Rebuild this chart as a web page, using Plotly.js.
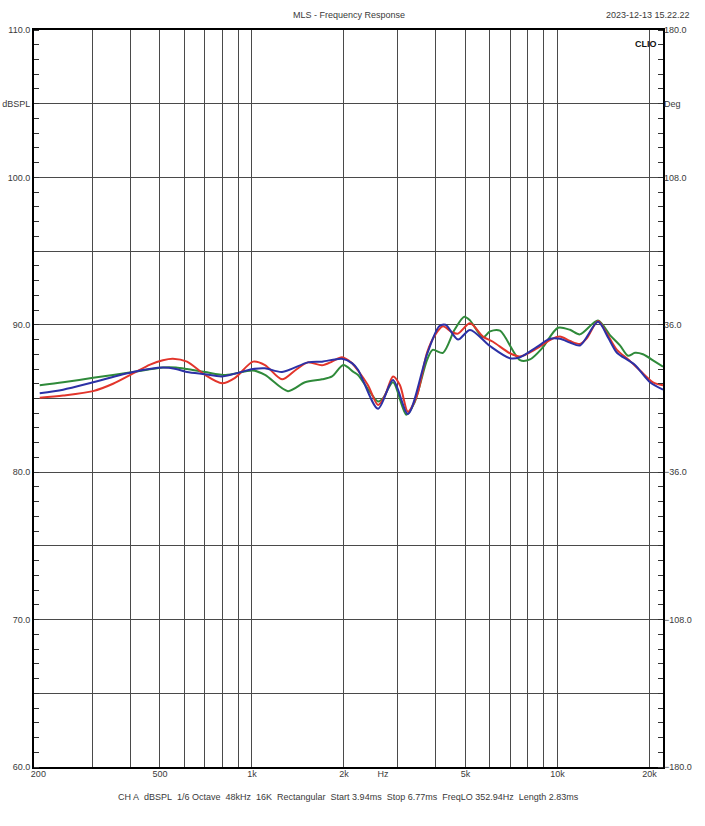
<!DOCTYPE html>
<html>
<head>
<meta charset="utf-8">
<script src="https://cdn.plot.ly/plotly-3.0.1.min.js"></script>
<style>
  html, body { margin: 0; padding: 0; background: #ffffff; }
  #chart { width: 705px; height: 826px; }
</style>
</head>
<body>
<div id="chart"></div>
<script>
// ---- data (Hz, dBSPL) ----
const FREQ_RED = [202, 241, 302, 351, 408, 464, 511, 551, 613, 702, 798, 880, 1008, 1103, 1254, 1383, 1525, 1695, 1828, 1970, 2124, 2223, 2397, 2585, 2724, 2894, 3050, 3239, 3467, 3738, 3970, 4217, 4512, 4722, 5170, 5700, 6146, 6986, 7534, 8562, 9443, 10180, 10980, 11840, 12480, 13560, 14510, 15640, 17000, 18610, 20520, 22130];
const SPL_RED  = [85.05, 85.2, 85.5, 86.0, 86.7, 87.3, 87.6, 87.7, 87.5, 86.6, 86.03, 86.4, 87.5, 87.27, 86.3, 86.9, 87.45, 87.25, 87.5, 87.8, 87.4, 86.9, 85.9, 84.56, 85.2, 86.5, 85.9, 84.1, 85.2, 88.1, 89.3, 89.9, 89.5, 89.4, 90.1, 89.2, 88.85, 88.07, 87.85, 88.4, 88.97, 89.2, 88.9, 88.7, 89.1, 90.26, 89.4, 88.3, 87.66, 86.9, 86.1, 85.9];

const FREQ_GREEN = [202, 241, 302, 408, 511, 564, 613, 702, 820, 1008, 1103, 1311, 1491, 1695, 1828, 1990, 2150, 2223, 2585, 2680, 2894, 3200, 3400, 3738, 3900, 4217, 4600, 4950, 5170, 5700, 6009, 6478, 7534, 8123, 8892, 10030, 10980, 11840, 13560, 14840, 16000, 17000, 17920, 19030, 20830, 22130];
const SPL_GREEN  = [85.9, 86.1, 86.4, 86.8, 87.1, 87.1, 87.0, 86.8, 86.6, 86.9, 86.6, 85.5, 86.1, 86.3, 86.5, 87.27, 86.8, 86.6, 84.8, 85.0, 86.1, 83.9, 84.7, 87.6, 88.3, 88.1, 89.66, 90.55, 90.3, 89.15, 89.55, 89.6, 87.6, 87.65, 88.4, 89.8, 89.66, 89.35, 90.3, 89.3, 88.6, 87.9, 88.1, 88.0, 87.5, 87.16];

const FREQ_BLUE = [202, 241, 302, 408, 511, 564, 613, 702, 798, 1008, 1103, 1254, 1525, 1695, 1970, 2124, 2223, 2585, 2894, 3239, 3738, 4100, 4300, 4722, 5170, 6009, 6986, 7534, 8562, 9443, 10180, 10980, 11840, 13560, 14660, 15640, 17000, 17920, 20060, 22130];
const SPL_BLUE  = [85.35, 85.6, 86.1, 86.8, 87.1, 87.0, 86.8, 86.65, 86.5, 87.0, 87.05, 86.8, 87.45, 87.5, 87.7, 87.4, 86.95, 84.3, 86.25, 83.95, 88.0, 89.9, 90.0, 89.0, 89.65, 88.56, 87.73, 87.8, 88.5, 89.05, 89.05, 88.8, 88.6, 90.2, 89.1, 88.1, 87.6, 87.27, 86.1, 85.6];

// ---- axes ----
const X_GRID_FREQS = [300, 400, 500, 600, 700, 800, 900, 1000, 2000, 3000, 4000, 5000, 6000, 7000, 8000, 9000, 10000, 20000];
const X_LABEL_FREQS = [200, 500, 1000, 2000, 2684, 5000, 10000, 20000];
const X_LABEL_TEXT = ['200', '500', '1k', '2k', 'Hz', '5k', '10k', '20k'];
const Y_TICKS = [60, 65, 70, 75, 80, 85, 90, 95, 100, 105, 110];
const Y_TICK_TEXT = ['60.0', '', '70.0', '', '80.0', '', '90.0', '', '100.0', 'dBSPL', '110.0'];
const DEG_TICKS = [-180, -108, -36, 36, 108, 144, 180];
const DEG_TICK_TEXT = ['\u2212180.0', '\u2212108.0', '\u221236.0', '36.0', '108.0', 'Deg', '180.0'];
const X_RANGE_HZ = [193.5, 22130];
const Y_RANGE = [60, 110];
const DEG_RANGE = [-180, 180];

const TITLE = 'MLS - Frequency Response';
const DATE_TEXT = '2023-12-13 15.22.22';
const INFO_TEXT = ['CH A', 'dBSPL', '1/6 Octave', '48kHz', '16K', 'Rectangular', 'Start 3.94ms', 'Stop 6.77ms', 'FreqLO 352.94Hz', 'Length 2.83ms'];

const FONT = 'Liberation Sans, Arial, sans-serif';
const TXT = '#3a3a3a';
const GRID = '#4a4a4a';

function curve(x, y, color, xa) {
  return {
    type: 'scatter', mode: 'lines', x: x, y: y, xaxis: xa, yaxis: 'y',
    line: { color: color, width: 2, shape: 'spline', smoothing: 0.8 },
    hoverinfo: 'skip', showlegend: false
  };
}

const data = [
  // empty helper so the right-hand degree axis is drawn
  { type: 'scatter', mode: 'lines', x: [], y: [], xaxis: 'x', yaxis: 'y2', hoverinfo: 'skip', showlegend: false },
  curve(FREQ_GREEN, SPL_GREEN, '#2f8a3a', 'x'),
  curve(FREQ_RED, SPL_RED, '#e2352b', 'x2'),
  curve(FREQ_BLUE, SPL_BLUE, '#2c31a6', 'x2')
];

const logRange = X_RANGE_HZ.map(Math.log10);
const PLOT_TOP = 30, PLOT_BOTTOM = 767;
const plotH = PLOT_BOTTOM - PLOT_TOP;
const pyFromPx = px => (PLOT_BOTTOM - px) / plotH;

const layout = {
  width: 705, height: 826,
  margin: { l: 34, r: 42, t: 30, b: 59, pad: 0 },
  paper_bgcolor: '#ffffff', plot_bgcolor: '#ffffff',
  showlegend: false, hovermode: false,
  font: { family: FONT, size: 9, color: TXT },
  xaxis: {
    type: 'log', range: logRange, fixedrange: true,
    tickmode: 'array', tickvals: X_GRID_FREQS, showticklabels: false, ticks: '',
    showgrid: true, gridcolor: GRID, gridwidth: 1,
    showline: true, linecolor: '#000000', linewidth: 2, mirror: true,
    zeroline: false
  },
  xaxis2: {
    type: 'log', range: logRange, overlaying: 'x', anchor: 'y', side: 'bottom', fixedrange: true,
    tickmode: 'array', tickvals: X_LABEL_FREQS, ticktext: X_LABEL_TEXT, ticks: '',
    showgrid: false, showline: false, zeroline: false,
    tickfont: { family: FONT, size: 9, color: TXT }
  },
  yaxis: {
    range: Y_RANGE, fixedrange: true,
    tickmode: 'array', tickvals: Y_TICKS, ticktext: Y_TICK_TEXT, ticks: '',
    showgrid: true, gridcolor: GRID, gridwidth: 1,
    showline: true, linecolor: '#000000', linewidth: 2, mirror: true,
    zeroline: false,
    tickfont: { family: FONT, size: 9, color: TXT },
    minor: { tickmode: 'linear', tick0: 60, dtick: 1, ticks: 'inside', ticklen: 5, tickwidth: 1, tickcolor: '#333333', showgrid: false }
  },
  yaxis2: {
    range: DEG_RANGE, overlaying: 'y', side: 'right', anchor: 'x', fixedrange: true,
    tickmode: 'array', tickvals: DEG_TICKS, ticktext: DEG_TICK_TEXT, ticks: '',
    showgrid: false, showline: false, zeroline: false,
    tickfont: { family: FONT, size: 9, color: TXT },
    minor: { tickmode: 'linear', tick0: -180, dtick: 7.2, ticks: 'inside', ticklen: 5, tickwidth: 1, tickcolor: '#333333', showgrid: false }
  },
  annotations: [
    { text: TITLE, xref: 'paper', yref: 'paper', x: 0.5, y: pyFromPx(15),
      xanchor: 'center', yanchor: 'middle', showarrow: false,
      font: { family: FONT, size: 9, color: TXT } },
    { text: DATE_TEXT, xref: 'paper', yref: 'paper', x: (692 - 34) / 629, y: pyFromPx(15),
      xanchor: 'right', yanchor: 'middle', showarrow: false,
      font: { family: FONT, size: 9, color: TXT } },
    { text: '<b>CLIO</b>', xref: 'paper', yref: 'paper', x: 0.993, y: 0.99,
      xanchor: 'right', yanchor: 'top', showarrow: false,
      font: { family: FONT, size: 9, color: '#111111' } },
    { text: INFO_TEXT.join('\u00a0\u00a0'), xref: 'paper', yref: 'paper', x: 0.5, y: pyFromPx(797),
      xanchor: 'center', yanchor: 'middle', showarrow: false,
      font: { family: FONT, size: 9, color: TXT } }
  ]
};

Plotly.newPlot('chart', data, layout, { displayModeBar: false, staticPlot: true });
</script>
</body>
</html>
